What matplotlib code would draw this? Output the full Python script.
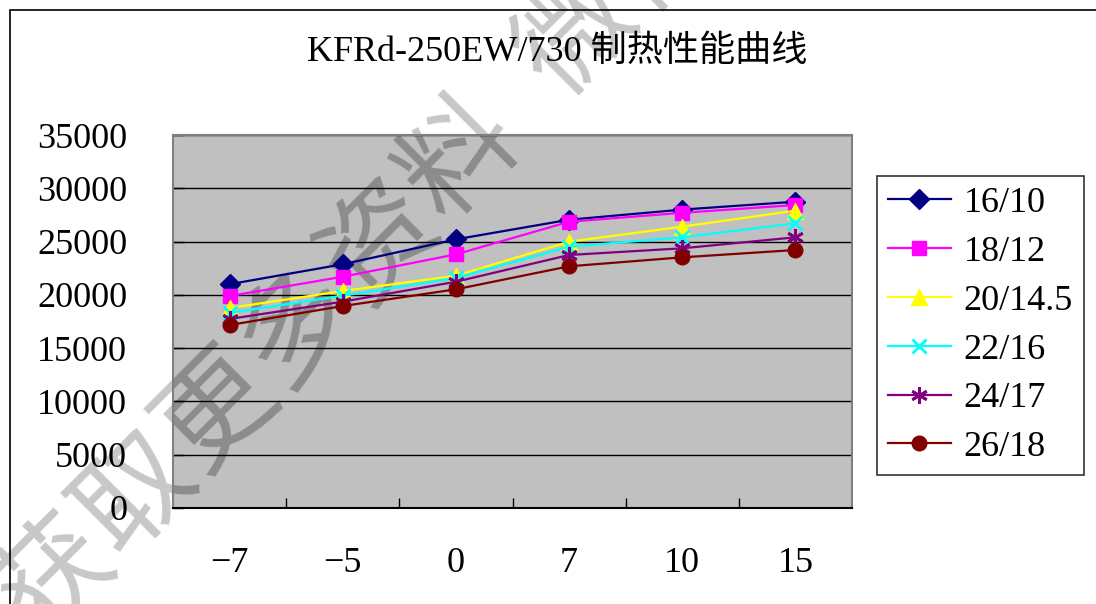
import matplotlib.pyplot as plt
from matplotlib.patches import Rectangle

plt.rcParams["font.family"] = ["Liberation Serif", "Noto Sans CJK SC", "DejaVu Sans"]

title = "KFRd-250EW/730 制热性能曲线"
categories = [-7, -5, 0, 7, 10, 15]
series_names = ["16/10", "18/12", "20/14.5", "22/16", "24/17", "26/18"]
s16_10 = [21000, 22870, 25210, 27050, 28000, 28740]
s18_12 = [19890, 21700, 23800, 26860, 27700, 28430]
s20_14 = [18770, 20360, 21800, 24990, 26400, 27900]
s22_16 = [18300, 19920, 21580, 24520, 25400, 26710]
s24_17 = [17740, 19360, 21230, 23740, 24370, 25400]
s26_18 = [17170, 18950, 20520, 22680, 23520, 24210]
y_ticks = [0, 5000, 10000, 15000, 20000, 25000, 30000, 35000]
watermark = ["获", "取", "更", "多", "资", "料", "微", "信"]
wm_steps = [0, 1, 2, 3, 4, 5, 6.45, 7.45]

series = [s16_10, s18_12, s20_14, s22_16, s24_17, s26_18]
colors = ["#000080", "#FF00FF", "#FFFF00", "#00FFFF", "#800080", "#800000"]
markers = ["D", "s", "^", "x", (6, 2, 0), "o"]
msizes = [10.5, 10, 11, 10, 12, 10.5]

fig = plt.figure(figsize=(10.96, 6.04), dpi=100)
ax = fig.add_axes([173 / 1096, 1 - 508 / 604, 679 / 1096, 373 / 604])
ax.set_facecolor("#C0C0C0")

# outer chart border (runs off the right and bottom of the picture)
fig.patches.append(Rectangle((10 / 1096, -0.1), 1.2, 1 - 10 / 604 + 0.1,
                             transform=fig.transFigure, fill=False,
                             edgecolor="black", linewidth=1.2))

x = list(range(len(categories)))
for name, vals, c, m, ms in zip(series_names, series, colors, markers, msizes):
    ax.plot(x, vals, color=c, linewidth=1.6, marker=m, markersize=ms,
            markeredgewidth=2 if m in ("x", (6, 2, 0)) else 1,
            markeredgecolor=c, label=name, zorder=3)

ax.set_xlim(-0.5, len(categories) - 0.5)
ax.set_ylim(0, 35000)
ax.set_yticks(y_ticks)
ax.set_yticklabels([str(v) for v in y_ticks])
ax.yaxis.grid(True, color="black", linewidth=1)
ax.set_axisbelow(True)

ax.set_xticks([i + 0.5 for i in x[:-1]])
ax.set_xticklabels([])
ax.set_xticks(x, minor=True)
ax.set_xticklabels([str(c).replace("-", "\u2212") for c in categories], minor=True)
ax.tick_params(axis="x", which="major", direction="in", length=7, width=1)
ax.tick_params(axis="x", which="minor", length=0, pad=28, labelsize=26)
ax.tick_params(axis="y", direction="in", length=8, width=1, pad=33, labelsize=26)

for side in ("top", "right", "left"):
    ax.spines[side].set_color("#808080")
    ax.spines[side].set_linewidth(1.5)
ax.spines["bottom"].set_color("black")
ax.spines["bottom"].set_linewidth(1.5)

fig.text(557 / 1096, 1 - 52 / 604, title, fontsize=26, ha="center", va="center")

# watermark: light on white, darker over the gray plot area
wm_kw = dict(fontsize=82, rotation=45, ha="center", va="center",
             family="Noto Sans CJK SC", fontweight="medium")
for ch, k in zip(watermark, wm_steps):
    px, py = 55 + 81 * k, 578 - 84 * k
    pos = (px / 1096, 1 - py / 604)
    fig.text(*pos, ch, color="#C8C8C8", zorder=-1, **wm_kw)
    ax.text(*pos, ch, color="#8C8C8C", zorder=0.5,
            transform=fig.transFigure, clip_on=True, **wm_kw)

leg = ax.legend(loc="upper left", bbox_to_anchor=(877 / 1096, 1 - 176 / 604),
                bbox_transform=fig.transFigure, fontsize=26, frameon=True,
                fancybox=False, edgecolor="black", handlelength=1.75,
                handletextpad=0.35, labelspacing=0.43, borderpad=0.3,
                borderaxespad=0)
leg.get_frame().set_linewidth(1.2)

fig.savefig("out.png", dpi=100)
